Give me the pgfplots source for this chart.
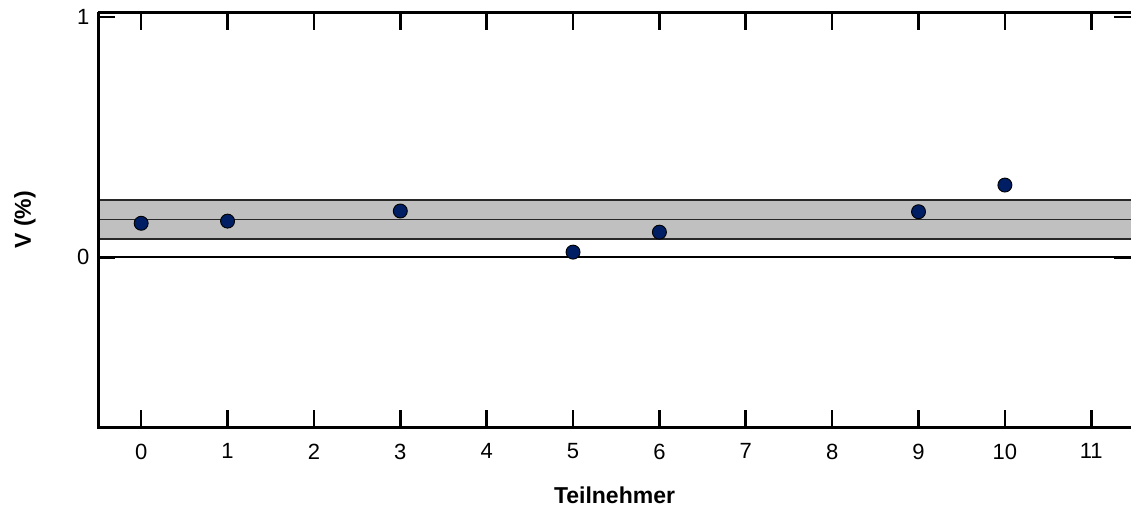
\documentclass[border=0pt]{standalone}
\usepackage{pgfplots}
\pgfplotsset{compat=1.18}
\usepackage{fontspec}
\setmainfont{Liberation Sans}
\definecolor{navy}{RGB}{0,30,100}
\definecolor{bandgray}{RGB}{192,192,192}
\definecolor{bandline}{RGB}{40,40,40}
\begin{document}
\fontsize{22}{26}\selectfont
\begin{tikzpicture}[x=1pt,y=1pt]
\path[use as bounding box] (0,0) rectangle (1131,515);
\begin{axis}[
  at={(98pt,87.7pt)}, anchor=south west,
  scale only axis, width=1033pt, height=414.8pt,
  xmin=-0.5, xmax=11.46, ymin=-0.707, ymax=1.019,
  xtick={0,1,...,11}, ytick={0,1},
  tick align=inside, major tick length=17pt,
  tick style={black, line width=2.6pt},
  axis line style={draw=none},
  /pgf/number format/assume math mode=true,
  xticklabel style={yshift=-9pt},
  yticklabel style={xshift=-1pt},
  xlabel={\fontsize{23}{27}\selectfont\bfseries Teilnehmer},
  ylabel={\fontsize{23}{27}\selectfont\bfseries V (\%)},
  xlabel style={at={(axis description cs:0.5,-0.164)}, anchor=center},
  ylabel style={at={(axis description cs:-0.0707,0.5)}, anchor=center},
  clip=false,
]
\addplot[draw=none, fill=bandgray] coordinates {(-0.49,0.076) (11.46,0.076) (11.46,0.238) (-0.49,0.238)} -- cycle;
\addplot[bandline, line width=1.8pt] coordinates {(-0.49,0.238) (11.46,0.238)};
\addplot[bandline, line width=1.8pt] coordinates {(-0.49,0.158) (11.46,0.158)};
\addplot[bandline, line width=1.8pt] coordinates {(-0.49,0.076) (11.46,0.076)};
\addplot[black, line width=1.8pt] coordinates {(-0.5,0) (11.46,0)};
\addplot[only marks, mark=*, mark size=7pt, mark options={fill=navy, draw=black, line width=0.9pt}] coordinates {
(0,0.142) (1,0.151) (3,0.193) (5,0.022) (6,0.105) (9,0.19) (10,0.301)};
\draw[black, line width=3pt] (rel axis cs:0,1) -- (rel axis cs:0,0) -- (rel axis cs:1,0);
\draw[black, line width=3pt] (rel axis cs:0,1) -- (rel axis cs:1,1);
\end{axis}
\end{tikzpicture}
\end{document}
